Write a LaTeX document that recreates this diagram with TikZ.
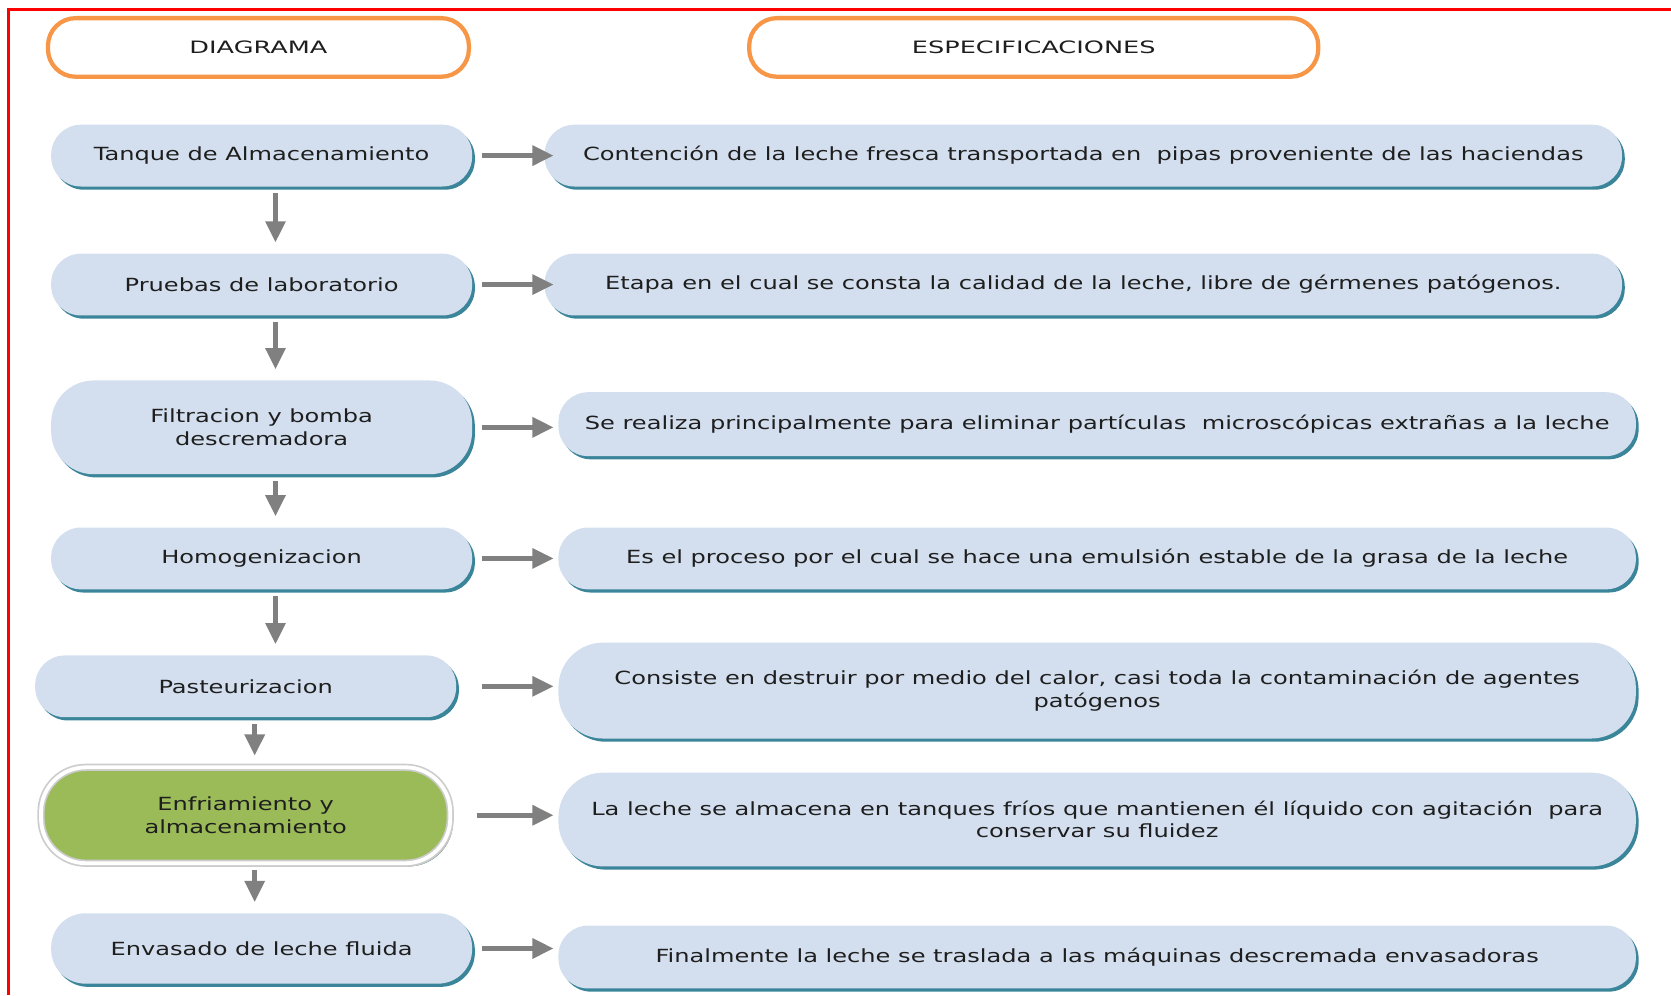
\documentclass[tikz,border=0pt]{standalone}
\usepackage{fontspec}
\setmainfont{DejaVu Sans}[FakeStretch=1.33]
\newfontfamily\cabecera{DejaVu Sans}[FakeStretch=1.5]
\usetikzlibrary{arrows.meta,shadows}
\definecolor{azulcaja}{HTML}{D3DFEE}
\definecolor{sombra}{HTML}{3A8599}
\definecolor{naranja}{HTML}{F79646}
\definecolor{verde}{HTML}{9BBB59}
\definecolor{gris}{HTML}{808080}
\definecolor{texto}{HTML}{1E1E1E}
\tikzset{
  titulo/.style={draw=naranja,line width=2pt,fill=white,rounded corners=13pt,
    minimum height=27.5pt,text=texto,font=\cabecera\fontsize{8}{10}\selectfont},
  caja/.style={fill=azulcaja,rounded corners=14pt,minimum height=29pt,
    text=texto,align=center,font=\fontsize{8.5}{10.5}\selectfont,
    drop shadow={shadow xshift=1.3pt,shadow yshift=-1.5pt,fill=sombra,opacity=1}},
  izq/.style={caja,minimum width=197.5pt},
  der/.style={caja,minimum width=505.5pt},
  activo/.style={izq,fill=verde,draw=black!20,double=white,double distance=1.8pt,
    line width=0.8pt,minimum width=192pt,
    drop shadow={shadow xshift=1.3pt,shadow yshift=-1.5pt,fill=black!30,opacity=1}},
  flecha/.style={draw=gris,line width=2.5pt,-{Triangle[length=10pt,width=9pt]}},
  baja/.style={flecha,shorten <=3pt,shorten >=5pt}
}
\begin{document}
\begin{tikzpicture}[x=0.5pt,y=-0.5pt]
\useasboundingbox (0,0) rectangle (1568,934);
\draw[red,line width=1.1pt] (8,934) -- (8,9) -- (1568,9);
\node[titulo,minimum width=197.5pt] (h1) at (242.5,44.5) {DIAGRAMA};
\node[titulo,minimum width=267pt] (h2) at (970,44.5) {ESPECIFICACIONES};
\node[izq] (l1) at (245.5,146) {Tanque de Almacenamiento};
\node[izq] (l2) at (245.5,267) {Pruebas de laboratorio};
\node[izq,minimum height=44pt,rounded corners=20pt] (l3) at (245.5,401) {Filtracion y bomba\\descremadora};
\node[izq] (l4) at (245.5,524) {Homogenizacion};
\node[izq] (l5) at (230.5,644) {Pasteurizacion};
\node[activo,minimum height=45pt,rounded corners=21pt] (l6) at (230.5,765) {Enfriamiento y\\almacenamiento};
\node[izq,minimum height=33pt,rounded corners=16pt] (l7) at (245.5,890) {Envasado de leche fluida};
\node[der] (r1) at (1016.5,146) {Contención de la leche fresca transportada en \ pipas proveniente de las haciendas};
\node[der] (r2) at (1016.5,267) {Etapa en el cual se consta la calidad de la leche, libre de gérmenes patógenos.};
\node[der,minimum height=30pt] (r3) at (1029.5,398) {Se realiza principalmente para eliminar partículas \ microscópicas extrañas a la leche};
\node[der] (r4) at (1029.5,524) {Es el proceso por el cual se hace una emulsión estable de la grasa de la leche};
\node[der,minimum height=45pt,rounded corners=21pt] (r5) at (1029.5,648) {Consiste en destruir por medio del calor, casi toda la contaminación de agentes\\patógenos};
\node[der,minimum height=44pt,rounded corners=21pt] (r6) at (1029.5,769) {La leche se almacena en tanques fríos que mantienen él líquido con agitación \ para\\conservar su fluidez};
\node[der,minimum height=29.5pt] (r7) at (1029.5,898) {Finalmente la leche se traslada a las máquinas descremada envasadoras};
\draw[flecha,shorten <=4.5pt,shorten >=-4.5pt] (l1.east) -- (l1.east -| r1.west);
\draw[flecha,shorten <=4.5pt,shorten >=-4.5pt] (l2.east) -- (l2.east -| r2.west);
\draw[flecha,shorten <=4.5pt,shorten >=2pt] (l3.east) -- (l3.east -| r3.west);
\draw[flecha,shorten <=4.5pt,shorten >=2pt] (l4.east) -- (l4.east -| r4.west);
\draw[flecha,shorten <=12pt,shorten >=2pt] (l5.east) -- (l5.east -| r5.west);
\draw[flecha,shorten <=12pt,shorten >=2pt] (l6.east) -- (l6.east -| r6.west);
\draw[flecha,shorten <=4.5pt,shorten >=2pt] (l7.east) -- (l7.east -| r7.west);
\draw[baja] ([xshift=6.5pt]l1.south) -- ([xshift=6.5pt]l2.north);
\draw[baja] ([xshift=6.5pt]l2.south) -- ([xshift=6.5pt]l3.north);
\draw[baja] ([xshift=6.5pt]l3.south) -- ([xshift=6.5pt]l4.north);
\draw[baja] ([xshift=6.5pt]l4.south) -- ([xshift=6.5pt]l4.south |- l5.north);
\draw[baja] ([xshift=4.25pt]l5.south) -- ([xshift=4.25pt]l6.north);
\draw[baja] ([xshift=4.25pt]l6.south) -- ([xshift=4.25pt]l6.south |- l7.north);
\end{tikzpicture}
\end{document}
